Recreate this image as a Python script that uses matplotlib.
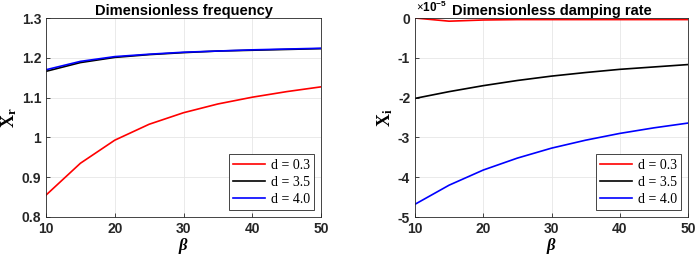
import numpy as np
import matplotlib.pyplot as plt

# beta values and curves
beta = [10, 15, 20, 25, 30, 35, 40, 45, 50]
labels = ["d = 0.3", "d = 3.5", "d = 4.0"]
colors = ["#ff0000", "#000000", "#0000ff"]

xr_d03 = [0.855, 0.935, 0.993, 1.033, 1.062, 1.084, 1.101, 1.115, 1.127]
xr_d35 = [1.166, 1.188, 1.201, 1.208, 1.213, 1.217, 1.219, 1.221, 1.223]
xr_d40 = [1.170, 1.191, 1.203, 1.209, 1.214, 1.217, 1.220, 1.222, 1.224]

# damping rate, units of 1e-5
xi_d03 = [0.0, -0.08, -0.05, -0.04, -0.04, -0.04, -0.04, -0.04, -0.04]
xi_d35 = [-2.02, -1.85, -1.70, -1.57, -1.46, -1.37, -1.29, -1.23, -1.17]
xi_d40 = [-4.68, -4.20, -3.82, -3.52, -3.27, -3.07, -2.90, -2.76, -2.64]

plt.rcParams["font.family"] = "Liberation Sans"
plt.rcParams["font.weight"] = "bold"
plt.rcParams["axes.unicode_minus"] = False
plt.rcParams["mathtext.fontset"] = "custom"
plt.rcParams["mathtext.rm"] = "Liberation Serif:weight=bold"
plt.rcParams["mathtext.it"] = "Liberation Serif:italic:weight=bold"
plt.rcParams["mathtext.bf"] = "Liberation Sans:bold"

fig = plt.figure(figsize=(6.97, 2.58), dpi=100)
ax1 = fig.add_axes([46/697, 1 - 217/258, 275/697, 199/258])
ax2 = fig.add_axes([415/697, 1 - 217/258, 273/697, 199/258])

def style(ax):
    ax.grid(color="#e6e6e6", linewidth=0.6)
    ax.set_axisbelow(True)
    for s in ax.spines.values():
        s.set_color("#262626")
        s.set_linewidth(0.6)
    ax.tick_params(direction="in", length=3, width=0.6, labelsize=10,
                   colors="#262626", top=False, right=False)
    for lab in ax.get_xticklabels() + ax.get_yticklabels():
        lab.set_fontweight("bold")
    ax.set_xlim(10, 50)
    ax.set_xticks([10, 20, 30, 40, 50])
    ax.set_xlabel(r"$\beta$", fontsize=12, labelpad=0)

for y, lab, c in zip([xr_d03, xr_d35, xr_d40], labels, colors):
    ax1.plot(beta, y, color=c, linewidth=1.2, label=lab)
style(ax1)
ax1.set_ylim(0.8, 1.3)
ax1.set_yticks([0.8, 0.9, 1.0, 1.1, 1.2, 1.3])
ax1.set_yticklabels(["0.8", "0.9", "1", "1.1", "1.2", "1.3"])
ax1.set_ylabel(r"$\mathrm{X_r}$", fontsize=13, labelpad=2)
ax1.set_title("Dimensionless frequency", fontsize=10.5, fontweight="bold", pad=2)

for y, lab, c in zip([xi_d03, xi_d35, xi_d40], labels, colors):
    ax2.plot(beta, y, color=c, linewidth=1.2, label=lab)
style(ax2)
ax2.set_ylim(-5, 0)
ax2.set_yticks([-5, -4, -3, -2, -1, 0])
ax2.set_ylabel(r"$\mathrm{X_i}$", fontsize=13, labelpad=2)
ax2.set_title("Dimensionless damping rate", fontsize=10.5, fontweight="bold", pad=2)
ax2.annotate(r"$\times\mathbf{10^{-5}}$", xy=(0, 1), xycoords="axes fraction",
             xytext=(1, 2), textcoords="offset points",
             fontsize=8.5, ha="left", va="bottom")

for ax in (ax1, ax2):
    leg = ax.legend(loc="lower right", prop={"family": "Liberation Serif", "size": 10,
                                              "weight": "normal"},
                    fancybox=False, framealpha=1, edgecolor="#262626",
                    handlelength=2.3, borderpad=0.3, labelspacing=0.3,
                    handletextpad=0.4, borderaxespad=0.5)
    leg.get_frame().set_linewidth(0.6)

fig.savefig("out.png", dpi=100)
